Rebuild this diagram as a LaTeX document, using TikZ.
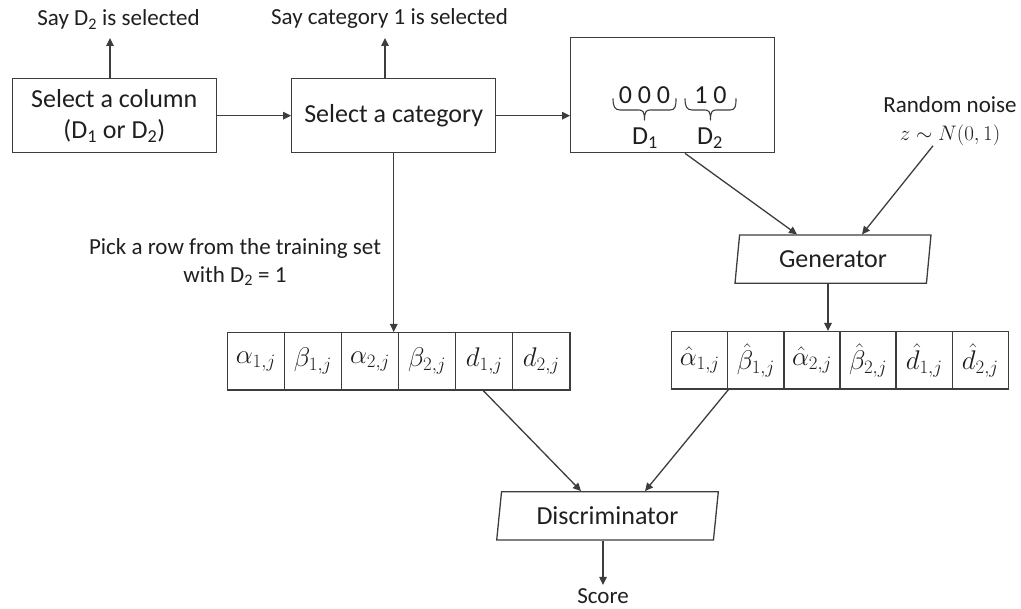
\RequirePackage{fix-cm}
\documentclass[tikz,border=0pt]{standalone}
\usepackage[no-math]{fontspec}
\setmainfont{Carlito}
\usetikzlibrary{arrows.meta,shapes.geometric}

\definecolor{ln}{gray}{0.24}
\definecolor{txt}{gray}{0.12}
\newcommand\bigtxt{\fontsize{26}{31}\selectfont}
\newcommand\smalltxt{\fontsize{23}{28}\selectfont}
\newcommand\mathtxt{\fontsize{27}{31}\selectfont}

\tikzset{
  box/.style={draw=ln, line width=1.3pt, inner sep=0pt, text=txt, font=\bigtxt},
  lbl/.style={inner sep=0pt, text=txt, font=\smalltxt},
  bits/.style={inner sep=0pt, text=txt, font=\bigtxt},
  cell/.style={draw=ln, line width=1.3pt, inner sep=0pt, text=txt, font=\mathtxt,
    minimum width=57.1pt, minimum height=57.3pt},
  para/.style={draw=ln, line width=1.3pt, inner sep=0pt, text=txt, font=\bigtxt,
    trapezium, trapezium left angle=75, trapezium right angle=105,
    trapezium stretches body, minimum height=48.3pt},
  arr/.style={draw=ln, line width=1.3pt, -{Triangle[length=8pt,width=7.5pt]}},
  brc/.style={draw=ln, line width=1.1pt, line join=round},
}

\begin{document}
\begin{tikzpicture}[x=1pt, y=-1pt]
\useasboundingbox (0,0) rectangle (1021,609);

% top row of boxes
\node[box, minimum width=204.3pt, minimum height=74pt, align=center] (col) at (114.3,115.7)
  {Select a column\\(D\textsubscript{1} or D\textsubscript{2})};
\node[box, minimum width=204pt, minimum height=74pt] (cat) at (393.7,115.7) {Select a category};
\node[box, minimum width=203.6pt, minimum height=115.4pt] (vec) at (672.5,95) {};

% one-hot condition vector inside the third box
\node[bits, anchor=base] (bitsA) at (644.5,103.3) {0 0 0};
\node[bits, anchor=base] (bitsB) at (710.5,103.3) {1 0};
\draw[brc] (613,98.5) .. controls (613,106) and (614.5,110) .. (620,110) -- (639,110)
  .. controls (643,110) and (644.5,112) .. (644.5,120)
  .. controls (644.5,112) and (646,110) .. (650,110) -- (670,110)
  .. controls (675.5,110) and (676,106) .. (676,98.5);
\draw[brc] (685,98.5) .. controls (685,106) and (686.5,110) .. (692,110) -- (705,110)
  .. controls (709,110) and (710.5,112) .. (710.5,120)
  .. controls (710.5,112) and (712,110) .. (716,110) -- (730,110)
  .. controls (735.5,110) and (736,106) .. (736,98.5);
\node[bits, anchor=base] (labA) at (645,145) {D\textsubscript{1}};
\node[bits, anchor=base] (labB) at (710,145) {D\textsubscript{2}};

% labels above the first two boxes
\node[lbl, anchor=base] (saycol) at (118.5,26) {Say D\textsubscript{2} is selected};
\node[lbl, anchor=base] (saycat) at (389.5,25) {Say category 1 is selected};
\coordinate (colup) at (110,38);
\coordinate (catup) at (385,38);
\draw[arr] (col.north -| colup) -- (colup);
\draw[arr] (cat.north -| catup) -- (catup);

% flow along the top row
\draw[arr] (col.east) -- (cat.west);
\draw[arr] (cat.east) -- (cat.east -| vec.west);

% sampling label
\node[lbl, align=center] (pick) at (235,262) {Pick a row from the training set\\with D\textsubscript{2} = 1};

% noise input
\node[lbl, align=center] (noise) at (950,121) {Random noise\\\fontsize{21}{28}\selectfont$z\sim N(0,1)$};

% generator and discriminator
\node[para, minimum width=196pt] (gen) at (833,259.2) {Generator};
\node[para, minimum width=221.6pt] (disc) at (607.5,515.9) {Discriminator};

% real row
\foreach \i/\m in {1/{\alpha_{1,j}},2/{\beta_{1,j}},3/{\alpha_{2,j}},4/{\beta_{2,j}},5/{d_{1,j}},6/{d_{2,j}}}
  \node[cell] (ta\i) at ({227.3+57.1*(\i-0.5)},361.3) {$\m$};
% generated row
\foreach \i/\m in {1/{\hat{\alpha}_{1,j}},2/{\hat{\beta}_{1,j}},3/{\hat{\alpha}_{2,j}},4/{\hat{\beta}_{2,j}},5/{\hat{d}_{1,j}},6/{\hat{d}_{2,j}}}
  \node[cell, minimum width=56.1pt] (tb\i) at ({671.7+56.1*(\i-0.5)},360.3) {$\m$};

% connectors
\coordinate (vx) at (685,0);
\coordinate (nx) at (933,0);
\coordinate (gx) at (828,0);
\draw[arr] (cat.south) -- (cat.south |- ta3.north);
\draw[arr] (vec.south -| vx) -- ([xshift=-36pt]gen.north);
\draw[arr] (noise.south -| nx) -- ([xshift=29pt]gen.north);
\draw[arr] (gen.south -| gx) -- (tb3.north -| gx);
\draw[arr] ([xshift=-1pt]ta5.south) -- ([xshift=-26.5pt]disc.north);
\draw[arr] (tb1.south east) -- ([xshift=37.5pt]disc.north);

% output
\node[lbl, anchor=base] (score) at (603,603) {Score};
\draw[arr] (disc.south -| score) -- ([yshift=3pt]score.north);
\end{tikzpicture}
\end{document}
